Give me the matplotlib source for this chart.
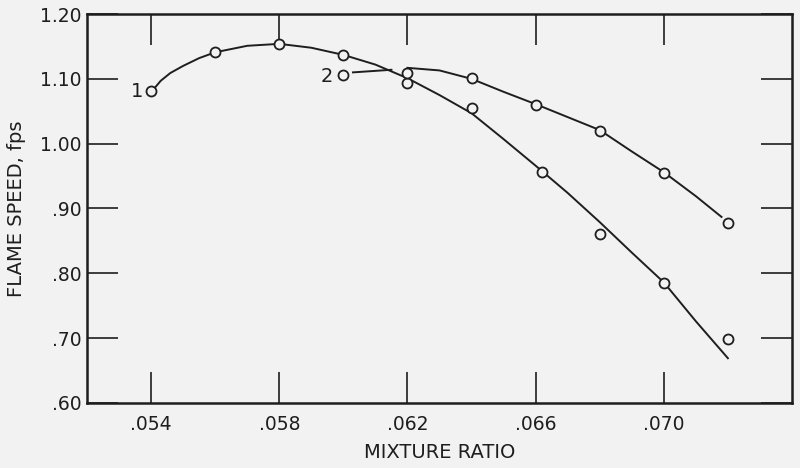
import matplotlib.pyplot as plt
import numpy as np

mix1 = [0.054, 0.056, 0.058, 0.060, 0.062, 0.064, 0.0662, 0.068, 0.070, 0.072]
speed1 = [1.081, 1.141, 1.154, 1.137, 1.094, 1.055, 0.956, 0.860, 0.785, 0.698]

mix2 = [0.060, 0.062, 0.064, 0.066, 0.068, 0.070, 0.072]
speed2 = [1.106, 1.109, 1.101, 1.060, 1.019, 0.955, 0.877]

# hand drawn curves
curve1_x = [0.05413, 0.0543, 0.0546, 0.055, 0.0555, 0.056, 0.057, 0.058, 0.059,
            0.060, 0.061, 0.062, 0.063, 0.064, 0.065, 0.066, 0.067, 0.068,
            0.069, 0.070, 0.071, 0.072]
curve1_y = [1.087, 1.097, 1.109, 1.120, 1.132, 1.141, 1.151, 1.154, 1.148,
            1.137, 1.122, 1.101, 1.075, 1.047, 1.007, 0.966, 0.924, 0.879,
            0.832, 0.786, 0.726, 0.669]

curve2_x = [0.0603, 0.0615, np.nan, 0.0620, 0.063, 0.064, 0.065, 0.066, 0.067,
            0.068, 0.069, 0.070, 0.071, 0.0718]
curve2_y = [1.110, 1.114, np.nan, 1.117, 1.113, 1.100, 1.080, 1.061, 1.041,
            1.021, 0.988, 0.956, 0.919, 0.887]

xticks = [0.054, 0.058, 0.062, 0.066, 0.070]
xlabels = ['.054', '.058', '.062', '.066', '.070']
yticks = [0.60, 0.70, 0.80, 0.90, 1.00, 1.10, 1.20]
ylabels = ['.60', '.70', '.80', '.90', '1.00', '1.10', '1.20']

bg = '#f2f2f2'
ink = '#1e1e1e'

fig = plt.figure(figsize=(8, 4.68), dpi=100, facecolor=bg)
ax = fig.add_axes([0.10875, 0.139, 0.88125, 0.831], facecolor=bg)

ax.plot(curve1_x, curve1_y, color=ink, lw=1.4)
ax.plot(curve2_x, curve2_y, color=ink, lw=1.4)
ax.plot(mix1, speed1, 'o', ms=7.2, mfc=bg, mec=ink, mew=1.3)
ax.plot(mix2, speed2, 'o', ms=7.2, mfc=bg, mec=ink, mew=1.3)

ax.text(0.05356, 1.080, '1', fontsize=14, color=ink, ha='center', va='center')
ax.text(0.05947, 1.103, '2', fontsize=14, color=ink, ha='center', va='center')

ax.set_xlim(0.052, 0.074)
ax.set_ylim(0.60, 1.20)
ax.set_xticks(xticks)
ax.set_xticklabels(xlabels)
ax.set_yticks(yticks)
ax.set_yticklabels(ylabels)

ax.tick_params(direction='in', length=22, width=1.2, color=ink,
               top=True, right=True, labelsize=13.5, labelcolor=ink)
ax.tick_params(axis='x', pad=9)
ax.tick_params(axis='y', pad=4)
for s in ax.spines.values():
    s.set_linewidth(1.8)
    s.set_color(ink)

ax.set_xlabel('MIXTURE RATIO', fontsize=14, color=ink, labelpad=6)
ax.set_ylabel('FLAME SPEED, fps', fontsize=14, color=ink, labelpad=10)

fig.savefig('out.png', dpi=100, facecolor=bg)
